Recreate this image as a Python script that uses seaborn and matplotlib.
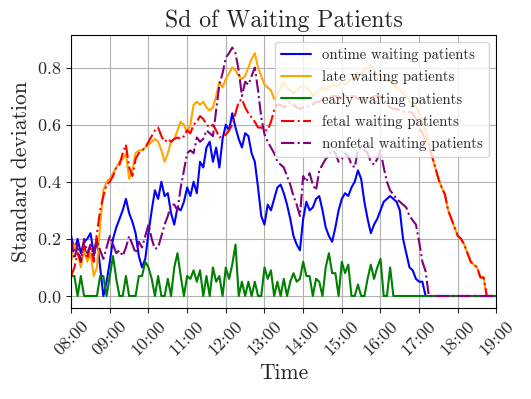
import pandas as pd
import matplotlib.pyplot as plt
import matplotlib.dates as mdates
import seaborn as sns

# 5-minute samples, 08:00 .. 19:00
times = pd.date_range('2023-01-01 08:00', '2023-01-01 19:00', freq='5min')

ontime = [
    0.21, 0.16, 0.20, 0.15, 0.19, 0.20, 0.22, 0.15, 0.20, 0.10, 0.00, 0.05,
    0.12, 0.20, 0.24, 0.27, 0.30, 0.34, 0.29, 0.26, 0.22, 0.14, 0.10, 0.13,
    0.22, 0.30, 0.37, 0.34, 0.40, 0.35, 0.36, 0.29, 0.25, 0.31, 0.30,
    0.33, 0.38, 0.35, 0.40, 0.36, 0.47, 0.45, 0.52, 0.54, 0.47, 0.52, 0.45,
    0.55, 0.60, 0.58, 0.64, 0.59, 0.55, 0.52, 0.57, 0.56, 0.50, 0.47, 0.38,
    0.28, 0.25, 0.32, 0.30, 0.34, 0.38, 0.39, 0.36, 0.32, 0.27, 0.21, 0.18,
    0.16, 0.27, 0.33, 0.30, 0.31, 0.34, 0.35, 0.30, 0.24, 0.21, 0.19,
    0.24, 0.30, 0.34, 0.36, 0.35, 0.38, 0.40, 0.44, 0.41, 0.33, 0.27, 0.22,
    0.25, 0.27, 0.30, 0.33, 0.34, 0.35, 0.34, 0.33, 0.30, 0.20, 0.15, 0.10,
    0.09, 0.06, 0.05, 0.05, 0.00, 0.00, 0.00, 0.00, 0.00, 0.00, 0.00, 0.00,
    0.00, 0.00, 0.00, 0.00, 0.00, 0.00, 0.00, 0.00, 0.00, 0.00, 0.00, 0.00,
    0.00, 0.00, 0.00,
]

late = [
    0.12, 0.18, 0.15, 0.10, 0.16, 0.12, 0.15, 0.07, 0.10, 0.25, 0.37, 0.40,
    0.41, 0.43, 0.45, 0.47, 0.48, 0.50, 0.41, 0.44, 0.50, 0.51, 0.51, 0.52,
    0.53, 0.54, 0.55, 0.54, 0.51, 0.47, 0.50, 0.54, 0.55, 0.58, 0.61,
    0.60, 0.57, 0.60, 0.67, 0.68, 0.67, 0.68, 0.66, 0.65, 0.66, 0.70, 0.75,
    0.73, 0.76, 0.78, 0.80, 0.79, 0.77, 0.76, 0.77, 0.80, 0.83, 0.85, 0.80,
    0.77, 0.74, 0.73, 0.72, 0.69, 0.70, 0.73, 0.75, 0.73, 0.72, 0.71, 0.72,
    0.73, 0.74, 0.73, 0.72, 0.70, 0.71, 0.72, 0.73, 0.72, 0.73, 0.74,
    0.735, 0.74, 0.75, 0.74, 0.75, 0.76, 0.76, 0.77, 0.78, 0.79, 0.80, 0.81,
    0.79, 0.77, 0.77, 0.76, 0.76, 0.75, 0.74, 0.73, 0.72, 0.71, 0.70, 0.68,
    0.67, 0.665, 0.64, 0.61, 0.585, 0.53, 0.49, 0.45, 0.41, 0.38, 0.355, 0.30,
    0.27, 0.24, 0.21, 0.20, 0.18, 0.15, 0.12, 0.11, 0.10, 0.065, 0.065, 0.00,
    0.00, 0.00, 0.00,
]

early = [
    0.07, 0.07, 0.00, 0.07, 0.00, 0.00, 0.00, 0.00, 0.00, 0.07, 0.07, 0.00,
    0.07, 0.14, 0.06, 0.00, 0.00, 0.07, 0.00, 0.00, 0.00, 0.07, 0.07, 0.12,
    0.10, 0.06, 0.00, 0.07, 0.00, 0.00, 0.06, 0.00, 0.10, 0.15, 0.07,
    0.00, 0.07, 0.06, 0.09, 0.05, 0.09, 0.00, 0.07, 0.00, 0.10, 0.05, 0.07,
    0.00, 0.10, 0.06, 0.11, 0.18, 0.00, 0.05, 0.00, 0.05, 0.00, 0.05, 0.00,
    0.00, 0.10, 0.06, 0.09, 0.00, 0.05, 0.00, 0.06, 0.00, 0.05, 0.08, 0.05,
    0.06, 0.12, 0.07, 0.07, 0.00, 0.06, 0.05, 0.00, 0.10, 0.15, 0.08,
    0.08, 0.00, 0.12, 0.08, 0.11, 0.00, 0.00, 0.04, 0.00, 0.00, 0.06, 0.11,
    0.06, 0.10, 0.13, 0.00, 0.00, 0.10, 0.00, 0.00, 0.00, 0.00, 0.00, 0.00,
    0.00, 0.00, 0.00, 0.00, 0.00, 0.00, 0.00, 0.00, 0.00, 0.00, 0.00, 0.00,
    0.00, 0.00, 0.00, 0.00, 0.00, 0.00, 0.00, 0.00, 0.00, 0.00, 0.00, 0.00,
    0.00, 0.00, 0.00,
]

fetal = [
    0.07, 0.10, 0.15, 0.12, 0.18, 0.13, 0.18, 0.12, 0.22, 0.30, 0.35, 0.39,
    0.40, 0.42, 0.45, 0.46, 0.50, 0.53, 0.45, 0.42, 0.48, 0.50, 0.51, 0.52,
    0.54, 0.56, 0.58, 0.59, 0.56, 0.54, 0.55, 0.54, 0.55, 0.555, 0.55,
    0.56, 0.58, 0.57, 0.60, 0.61, 0.63, 0.62, 0.60, 0.59, 0.60, 0.58, 0.555,
    0.56, 0.565, 0.58, 0.60, 0.64, 0.68, 0.69, 0.66, 0.64, 0.625, 0.61, 0.59,
    0.59, 0.58, 0.58, 0.61, 0.65, 0.67, 0.67, 0.66, 0.67, 0.68, 0.67, 0.66,
    0.655, 0.66, 0.66, 0.67, 0.67, 0.68, 0.68, 0.69, 0.69, 0.70, 0.70,
    0.70, 0.70, 0.69, 0.70, 0.70, 0.70, 0.70, 0.69, 0.69, 0.69, 0.69, 0.69,
    0.70, 0.70, 0.70, 0.69, 0.67, 0.66, 0.655, 0.655, 0.65, 0.645, 0.645, 0.645,
    0.64, 0.62, 0.59, 0.57, 0.55, 0.53, 0.49, 0.45, 0.41, 0.38, 0.355, 0.30,
    0.27, 0.24, 0.21, 0.20, 0.18, 0.15, 0.12, 0.11, 0.10, 0.065, 0.065, 0.00,
    0.00, 0.00, 0.00,
]

nonfetal = [
    0.20, 0.13, 0.18, 0.12, 0.20, 0.15, 0.18, 0.14, 0.19, 0.16, 0.13, 0.17,
    0.21, 0.18, 0.15, 0.16, 0.14, 0.17, 0.21, 0.18, 0.15, 0.19, 0.17, 0.21,
    0.25, 0.20, 0.165, 0.17, 0.21, 0.25, 0.28, 0.32, 0.32, 0.30, 0.38,
    0.44, 0.50, 0.51, 0.50, 0.555, 0.54, 0.55, 0.58, 0.57, 0.56, 0.65, 0.74,
    0.78, 0.835, 0.85, 0.87, 0.85, 0.79, 0.70, 0.75, 0.74, 0.77, 0.80, 0.72,
    0.625, 0.566, 0.54, 0.52, 0.50, 0.47, 0.46, 0.45, 0.42, 0.39, 0.35, 0.32,
    0.28, 0.42, 0.40, 0.43, 0.39, 0.37, 0.44, 0.46, 0.48, 0.49, 0.51,
    0.50, 0.47, 0.48, 0.50, 0.49, 0.46, 0.45, 0.51, 0.52, 0.51, 0.50, 0.47,
    0.46, 0.48, 0.51, 0.45, 0.40, 0.37, 0.355, 0.34, 0.33, 0.32, 0.31, 0.28,
    0.265, 0.25, 0.19, 0.12, 0.087, 0.00, 0.00, 0.00, 0.00, 0.00, 0.00, 0.00,
    0.00, 0.00, 0.00, 0.00, 0.00, 0.00, 0.00, 0.00, 0.00, 0.00, 0.00, 0.00,
    0.00, 0.00, 0.00,
]

labels = ['ontime waiting patients', 'late waiting patients', 'early waiting patients',
          'fetal waiting patients', 'nonfetal waiting patients']
series = [ontime, late, early, fetal, nonfetal]
colors = ['blue', 'orange', 'green', 'red', 'purple']
styles = ['-', '-', '-', '-.', '-.']

sns.set_style('ticks')
plt.rcParams['font.family'] = 'serif'
plt.rcParams['font.serif'] = ['cmr10']
plt.rcParams['mathtext.fontset'] = 'cm'
plt.rcParams['axes.formatter.use_mathtext'] = True
plt.rcParams['axes.unicode_minus'] = False

fig, ax = plt.subplots(figsize=(5.31, 3.99), dpi=100)
fig.subplots_adjust(left=0.134, right=0.935, top=0.912, bottom=0.227)

for vals, lab, col, ls in zip(series, labels, colors, styles):
    df = pd.DataFrame({'time': times, 'sd': vals})
    sns.lineplot(data=df, x='time', y='sd', ax=ax, color=col, linestyle=ls,
                 linewidth=1.5, label=lab)

ax.set_xlim(times[0], times[-1])
ax.xaxis.set_major_locator(mdates.HourLocator())
ax.xaxis.set_major_formatter(mdates.DateFormatter('%H:%M'))
plt.setp(ax.get_xticklabels(), rotation=45, ha='center', rotation_mode='default')
ax.tick_params(labelsize=13)
ax.grid(True, color='#b0b0b0', linewidth=0.8)
for s in ax.spines.values():
    s.set_color('black')
    s.set_linewidth(0.8)

ax.set_title('Sd of Waiting Patients', fontsize=17)
ax.set_xlabel('Time', fontsize=15.5)
ax.set_ylabel('Standard deviation', fontsize=15.5)
ax.legend(loc='upper right', fontsize=10.6, framealpha=0.8, labelspacing=0.55)

fig.savefig('out.png', dpi=100)
